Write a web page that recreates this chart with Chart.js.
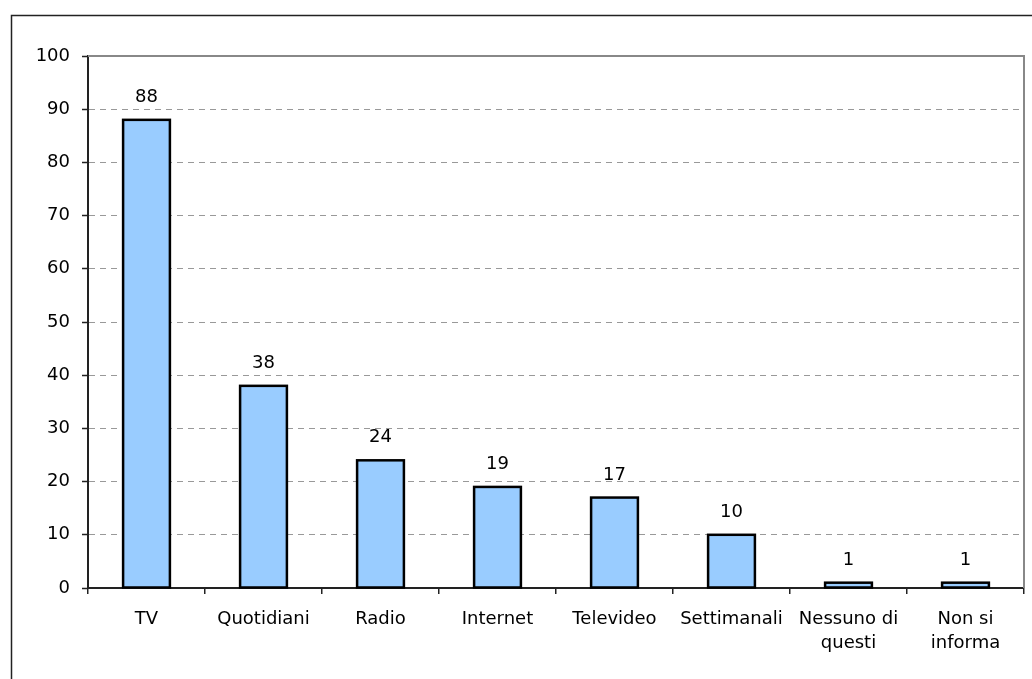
<!DOCTYPE html>
<html>
<head>
<meta charset="utf-8">
<script src="https://cdn.jsdelivr.net/npm/chart.js@4/dist/chart.umd.min.js"></script>
<style>
  html, body { margin: 0; padding: 0; background: #fff; }
  #wrap { position: relative; width: 1032px; height: 679px; }
</style>
</head>
<body>
<div id="wrap"><canvas id="chart" width="1032" height="679"></canvas></div>
<script>
// dati del grafico
const categories = ['TV', 'Quotidiani', 'Radio', 'Internet', 'Televideo', 'Settimanali', ['Nessuno di', 'questi'], ['Non si', 'informa']];
const values = [88, 38, 24, 19, 17, 10, 1, 1];
const yTicks = [0, 10, 20, 30, 40, 50, 60, 70, 80, 90, 100];

const FONT = 'DejaVu Sans';

// contorno barre centrato sul bordo (come Excel)
const outlinePlugin = {
  id: 'outline',
  afterDatasetsDraw(chart) {
    const ctx = chart.ctx;
    ctx.save();
    ctx.strokeStyle = '#000';
    ctx.lineWidth = 2.5;
    chart.getDatasetMeta(0).data.forEach((bar) => {
      const p = bar.getProps(['x', 'y', 'base', 'width'], true);
      ctx.strokeRect(p.x - p.width / 2, p.y, p.width, p.base - p.y);
    });
    ctx.restore();
  }
};

// cornice esterna, bordo area e etichette sopra le barre
const framePlugin = {
  id: 'frame',
  afterDraw(chart) {
    const ctx = chart.ctx;
    const area = chart.chartArea;
    ctx.save();
    ctx.strokeStyle = '#222';
    ctx.lineWidth = 1.5;
    ctx.strokeRect(11.5, 15.5, 2000, 2000);

    ctx.strokeStyle = '#888';
    ctx.lineWidth = 2;
    ctx.beginPath();
    ctx.moveTo(area.left, area.top);
    ctx.lineTo(area.right, area.top);
    ctx.lineTo(area.right, area.bottom);
    ctx.stroke();

    ctx.fillStyle = '#000';
    ctx.font = '18px "' + FONT + '"';
    ctx.textAlign = 'center';
    ctx.textBaseline = 'alphabetic';
    chart.getDatasetMeta(0).data.forEach((bar, i) => {
      ctx.fillText(String(values[i]), bar.x, bar.y - 18);
    });
    ctx.restore();
  }
};

new Chart(document.getElementById('chart'), {
  type: 'bar',
  data: {
    labels: categories,
    datasets: [{
      data: values,
      backgroundColor: '#99CCFF',
      borderWidth: 0,
      categoryPercentage: 1,
      barPercentage: 0.4
    }]
  },
  options: {
    responsive: false,
    animation: false,
    layout: { padding: { left: 0, right: 8, top: 56, bottom: 0 } },
    plugins: { legend: { display: false }, tooltip: { enabled: false } },
    scales: {
      x: {
        afterFit(scale) { scale.height = 91; },
        grid: {
          offset: true,
          drawOnChartArea: false,
          tickLength: 6,
          color: '#222',
          lineWidth: 1.5
        },
        border: { color: '#222', width: 2 },
        ticks: {
          color: '#000',
          padding: 14,
          maxRotation: 0,
          autoSkip: false,
          font: { family: FONT, size: 18, lineHeight: 1.3 }
        }
      },
      y: {
        min: 0,
        max: 100,
        afterFit(scale) { scale.width = 88; },
        afterBuildTicks(scale) { scale.ticks = yTicks.map(v => ({ value: v })); },
        grid: {
          tickLength: 6,
          color: (c) => (c.tick && (c.tick.value === 0 || c.tick.value === 100)) ? 'rgba(0,0,0,0)' : '#999',
          tickColor: '#222',
          tickWidth: 1.5,
          tickBorderDash: [1, 0],
          lineWidth: 1
        },
        border: { color: '#222', width: 2, dash: [6, 5] },
        ticks: {
          color: '#000',
          padding: 12,
          font: { family: FONT, size: 18 }
        }
      }
    }
  },
  plugins: [outlinePlugin, framePlugin]
});
</script>
</body>
</html>
